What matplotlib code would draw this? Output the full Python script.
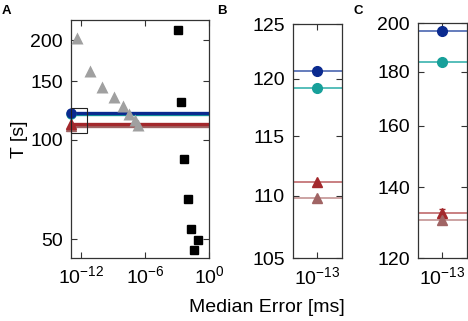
import matplotlib
matplotlib.use("Agg")
import matplotlib.pyplot as plt
import numpy as np
from matplotlib.patches import Rectangle

plt.rcParams['font.family'] = ['Liberation Sans', 'DejaVu Sans']
plt.rcParams['mathtext.fontset'] = 'custom'
plt.rcParams['mathtext.rm'] = 'Liberation Sans'
plt.rcParams['mathtext.it'] = 'Liberation Sans:italic'
plt.rcParams['mathtext.bf'] = 'Liberation Sans:bold'
FS = 14
plt.rcParams['font.size'] = FS

# ---- data ----
# Panel A: gray triangles (error, T)
tri_err = [10**-12.4, 10**-11.2, 10**-10.05, 10**-8.95, 10**-8.07, 10**-7.55, 10**-6.92, 10**-6.71]
tri_T = [202.4, 161.5, 143.9, 134.1, 126.2, 119.9, 115.0, 110.5]
# Panel A: black squares
sq_err = [10**-2.93, 10**-2.65, 10**-2.34, 10**-1.99, 10**-1.71, 10**-1.03, 10**-1.38]
sq_T = [214.2, 130.1, 87.2, 65.9, 53.6, 49.6, 46.4]

# Exact methods (median error ~1e-13)
exact_err = 1e-13
B_names = ['blue', 'teal', 'red', 'rose']
B_T = [120.7, 119.2, 111.1, 109.8]
C_T = [196.7, 183.8, 132.4, 130.5]
C_yerr = [0.0, 0.0, 1.3, 0.0]

colors = {'blue': '#0a2a8f', 'teal': '#17a09a', 'red': '#a3282c', 'rose': '#a06464'}
line_colors = {'blue': '#4a66b0', 'teal': '#3ab3ae', 'red': '#c06a6c', 'rose': '#c49494'}
markers = {'blue': 'o', 'teal': 'o', 'red': '^', 'rose': '^'}

A_yticks = [50, 100, 150, 200]
A_xticks = [1e-12, 1e-6, 1e0]
B_yticks = [105, 110, 115, 120, 125]
C_yticks = [120, 140, 160, 180, 200]

W, H = 468, 321
fig = plt.figure(figsize=(W / 100, H / 100), dpi=100)

def ax_at(l, r, t, b):
    return fig.add_axes([l / W, 1 - b / H, (r - l) / W, (b - t) / H])

axA = ax_at(70.7, 209, 20, 257.5)
axB = ax_at(292.7, 342, 24, 258.3)
axC = ax_at(417.7, 466.7, 23.3, 258.3)

for ax in (axA, axB, axC):
    ax.set_xscale('log')
    ax.set_yscale('log')
    ax.minorticks_off()
    ax.tick_params(direction='in', top=True, right=True, length=4, width=0.8,
                   color='#333333', labelsize=FS, pad=5.5)
    for s in ax.spines.values():
        s.set_linewidth(0.9)
        s.set_color('#333333')

# ---- Panel A ----
axA.set_xlim(1e-13, 1)
axA.set_ylim(44, 230)
for name, T in zip(B_names[::-1], B_T[::-1]):
    axA.plot([exact_err, 1], [T, T], color=colors[name], lw=2.4, zorder=2, solid_capstyle='butt')
    axA.plot([exact_err], [T], marker=markers[name], color=colors[name], ms=6.5,
             linestyle='none', clip_on=False, zorder=4)
axA.plot(tri_err, tri_T, '^', color='#a0a0a0', ms=8, mec='none', zorder=3)
axA.plot(sq_err, sq_T, 's', color='black', ms=6, zorder=3)
axA.add_patch(Rectangle((1e-13, 105), 10**-11.5 - 1e-13, 20, fill=False,
                        ec='#222222', lw=0.8, zorder=5, clip_on=False))
axA.set_xticks(A_xticks)
axA.set_xticklabels([r'$10^{-12}$', r'$10^{-6}$', r'$10^{0}$'])
axA.set_yticks(A_yticks)
axA.set_yticklabels([str(v) for v in A_yticks])
axA.set_ylabel('T [s]', labelpad=2)
axA.minorticks_off()

# ---- Panel B ----
axB.set_xlim(10**-13.5, 10**-12.5)
axB.set_ylim(105, 125)
for name, T in zip(B_names, B_T):
    axB.axhline(T, color=line_colors[name], lw=1.2, zorder=2)
    axB.plot([exact_err], [T], marker=markers[name], color=colors[name], ms=7,
             linestyle='none', zorder=3)
axB.set_xticks([1e-13])
axB.set_xticklabels([r'$10^{-13}$'])
axB.set_yticks(B_yticks)
axB.set_yticklabels([str(v) for v in B_yticks])
axB.minorticks_off()

# ---- Panel C ----
axC.set_xlim(10**-13.5, 10**-12.5)
axC.set_ylim(120, 200)
for name, T, e in zip(B_names, C_T, C_yerr):
    axC.axhline(T, color=line_colors[name], lw=1.2, zorder=2)
    axC.errorbar([exact_err], [T], yerr=[e] if e > 0 else None, marker=markers[name],
                 color=colors[name], ms=7, linestyle='none', capsize=2, elinewidth=0.8, zorder=3)
axC.set_xticks([1e-13])
axC.set_xticklabels([r'$10^{-13}$'])
axC.set_yticks(C_yticks)
axC.set_yticklabels([str(v) for v in C_yticks])
axC.minorticks_off()

fig.text(267 / W, 1 - 307 / H, 'Median Error [ms]', ha='center', va='center', fontsize=FS)
for lab, x, y in (('A', 6, 11), ('B', 222, 11), ('C', 358, 11)):
    fig.text(x / W, 1 - y / H, lab, ha='center', va='center', fontsize=9.5, fontweight='bold')

fig.savefig('out.png', dpi=100)
